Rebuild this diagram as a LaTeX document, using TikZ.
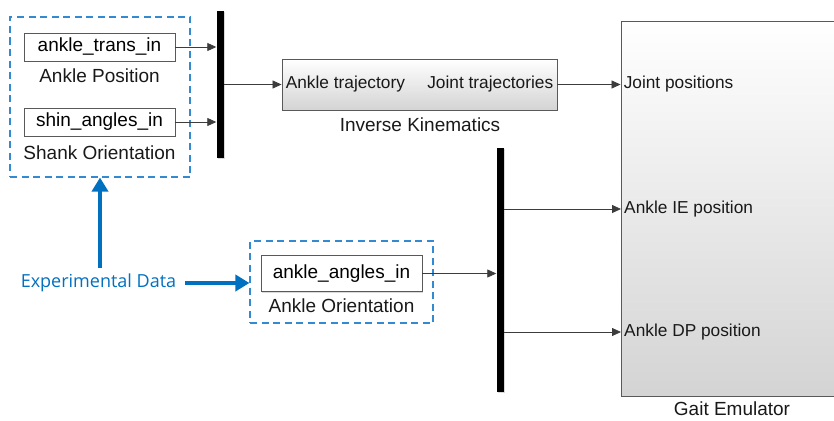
\documentclass[tikz,border=0pt]{standalone}
\usepackage{fontspec}
\setmainfont{Liberation Sans}
\newfontfamily\notefont{Open Sans}
\usetikzlibrary{positioning, arrows.meta, shadows, calc}
\definecolor{dashblue}{RGB}{52,138,208}
\definecolor{noteblue}{RGB}{0,112,192}
\definecolor{wiregray}{RGB}{60,60,60}
\newcommand{\BlockFont}{\fontsize{19}{22}\selectfont}
\newcommand{\PortFont}{\fontsize{17.3}{20}\selectfont}
\tikzset{
    source/.style={draw=black!65, fill=white, line width=0.9pt, inner sep=0pt,
      minimum width=151pt, minimum height=28pt, font=\BlockFont,
      drop shadow={shadow xshift=1.2pt, shadow yshift=-1.2pt, opacity=0.3}},
    subsys/.style={draw=black!65, line width=0.9pt, inner sep=0pt,
      top color=white, bottom color=black!17,
      drop shadow={shadow xshift=1.2pt, shadow yshift=-1.2pt, opacity=0.3}},
    blocklabel/.style={font=\BlockFont, text=black!90, inner sep=0pt},
    port/.style={font=\PortFont, text=black!90, inner sep=0pt},
    mux/.style={fill=black, draw=none, minimum width=7pt, inner sep=0pt,
      drop shadow={shadow xshift=1pt, shadow yshift=-1pt, opacity=0.3}},
    group/.style={draw=dashblue, dashed, dash pattern=on 7pt off 4.5pt, line width=1.1pt, inner sep=0pt},
    wire/.style={draw=wiregray, line width=0.8pt, -{Triangle[length=9pt, width=8pt]}},
    note/.style={font=\notefont\fontsize{18}{21}\selectfont, text=noteblue, inner sep=0pt},
    bigarrow/.style={draw=noteblue, line width=4.5pt, -{Triangle[length=14pt, width=16pt]}},
}
\begin{document}
\begin{tikzpicture}[x=1pt, y=-1pt]
    \useasboundingbox (0,0) rectangle (834,420);

    % data sources
    \node[group, minimum width=180pt, minimum height=160pt] (posgroup) at (100,97) {};
    \node[source] (transin) at (99.5,47) {ankle\_trans\_in};
    \node[blocklabel] (translbl) at (99.5,76) {Ankle Position};
    \node[source] (shinin) at (99.5,122) {shin\_angles\_in};
    \node[blocklabel] (shinlbl) at (99.5,153) {Shank Orientation};

    \node[group, minimum width=183pt, minimum height=82pt] (anglegroup) at (341.5,282) {};
    \node[source, minimum width=161pt, minimum height=36pt] (anglesin) at (341.5,273.5) {ankle\_angles\_in};
    \node[blocklabel] (anglelbl) at (341.5,306) {Ankle Orientation};

    % muxes
    \node[mux, minimum height=147pt] (mux1) at (220,84.5) {};
    \node[mux, minimum height=244pt] (mux2) at (500,270) {};

    % inverse kinematics
    \node[subsys, minimum width=275pt, minimum height=51pt] (ik) at (419.5,84.5) {};
    \node[port, anchor=west] (iktraj) at ($(ik.west)+(4,0)$) {Ankle trajectory};
    \node[port, anchor=east] (ikjoint) at ($(ik.east)+(-4,0)$) {Joint trajectories};
    \node[blocklabel] (iklbl) at (420,125) {Inverse Kinematics};

    % gait emulator
    \node[subsys, minimum width=249pt, minimum height=375pt] (gait) at (745.5,208.5) {};
    \coordinate (jointin) at (ik.east -| gait.west);
    \coordinate (iein) at (621,209);
    \coordinate (dpin) at (621,332);
    \node[port, anchor=west] (jointlbl) at ($(jointin)+(3,0)$) {Joint positions};
    \node[port, anchor=west] (ielbl) at ($(iein)+(3,0)$) {Ankle IE position};
    \node[port, anchor=west] (dplbl) at ($(dpin)+(3,0)$) {Ankle DP position};
    \node[blocklabel] (gaitlbl) at (732,409) {Gait Emulator};

    % signals
    \draw[wire] (transin.east) -- (transin.east -| mux1.west);
    \draw[wire] (shinin.east) -- (shinin.east -| mux1.west);
    \draw[wire] (mux1.east |- ik.west) -- (ik.west);
    \draw[wire] (ik.east) -- (jointin);
    \draw[wire] (anglesin.east) -- (anglesin.east -| mux2.west);
    \draw[wire] (mux2.east |- iein) -- (iein);
    \draw[wire] (mux2.east |- dpin) -- (dpin);

    % experimental data
    \node[note] (expdata) at (98.5,283) {Experimental Data};
    \draw[bigarrow, shorten <=9pt] (expdata.east) -- (expdata.east -| anglegroup.west);
    \draw[bigarrow, shorten <=6pt] (expdata.north -| posgroup.south) -- (posgroup.south);
\end{tikzpicture}
\end{document}
